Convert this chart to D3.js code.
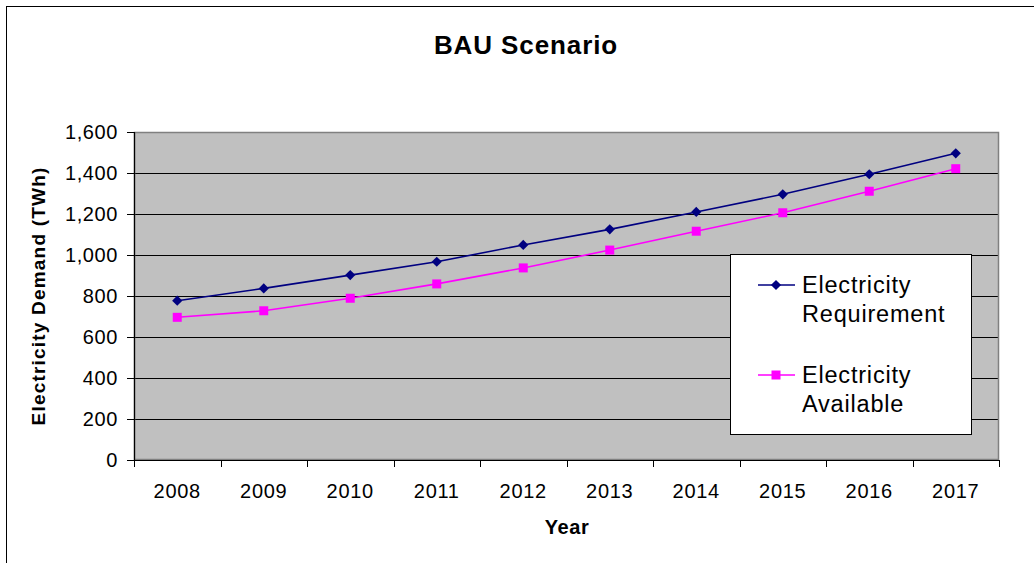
<!DOCTYPE html>
<html>
<head>
<meta charset="utf-8">
<script src="https://cdn.jsdelivr.net/npm/d3@7"></script>
<style>
  body { margin: 0; background: #fff; }
  svg { display: block; font-family: Arial, "Liberation Sans", sans-serif; }
</style>
</head>
<body>
<svg id="chart" width="1034" height="563"></svg>
<script>
const years = ["2008","2009","2010","2011","2012","2013","2014","2015","2016","2017"];
const requirement = [777, 837, 902, 967, 1049, 1125, 1210, 1296, 1394, 1496];
const available = [696, 728, 789, 859, 937, 1024, 1116, 1206, 1311, 1421];
const yTicks = [0, 200, 400, 600, 800, 1000, 1200, 1400, 1600];
const seriesNames = ["Electricity Requirement", "Electricity Available"];

const svg = d3.select("#chart");

// outer chart frame
svg.append("rect").attr("x", 6.5).attr("y", 6.5).attr("width", 1200).attr("height", 700)
  .attr("fill", "#fff").attr("stroke", "#000").attr("stroke-width", 1);

const plot = { left: 134, top: 132, right: 999, bottom: 460 };

const x = d3.scaleBand().domain(years).range([plot.left, plot.right]);
const y = d3.scaleLinear().domain([0, 1600]).range([plot.bottom, plot.top]);

// plot area
svg.append("rect").attr("x", plot.left).attr("y", plot.top)
  .attr("width", plot.right - plot.left).attr("height", plot.bottom - plot.top)
  .attr("fill", "#C0C0C0");

// gridlines
svg.append("g").selectAll("line").data(yTicks.filter(d => d > 0 && d < 1600)).join("line")
  .attr("x1", plot.left).attr("x2", plot.right)
  .attr("y1", d => Math.round(y(d)) + 0.5).attr("y2", d => Math.round(y(d)) + 0.5)
  .attr("stroke", "#000").attr("stroke-width", 1);

// plot border
svg.append("rect").attr("x", plot.left + 0.5).attr("y", plot.top + 0.5)
  .attr("width", plot.right - plot.left - 1).attr("height", plot.bottom - plot.top - 1)
  .attr("fill", "none").attr("stroke", "#808080").attr("stroke-width", 1.5);

// Y axis
const yAxis = d3.axisLeft(y).tickValues(yTicks).tickSize(7).tickPadding(9)
  .tickFormat(d3.format(","));
const gy = svg.append("g").attr("transform", `translate(${plot.left},0)`).call(yAxis);
gy.select(".domain").attr("stroke", "#000").attr("stroke-width", 1.2);
gy.selectAll(".tick line").attr("stroke", "#000");
gy.selectAll(".tick text").attr("font-size", 20).attr("fill", "#000")
  .attr("font-family", "Arial, 'Liberation Sans', sans-serif").attr("letter-spacing", 0.6);

// X axis (ticks at category boundaries)
const gx = svg.append("g").attr("transform", `translate(0,${plot.bottom})`);
gx.append("line").attr("x1", plot.left).attr("x2", plot.right).attr("y1", 0.5).attr("y2", 0.5)
  .attr("stroke", "#000").attr("stroke-width", 1.2);
const bounds = years.map(d => x(d)).concat([x(years[years.length-1]) + x.bandwidth()]);
gx.selectAll("line.tk").data(bounds).join("line").attr("class", "tk")
  .attr("x1", d => Math.round(d) + 0.5).attr("x2", d => Math.round(d) + 0.5)
  .attr("y1", 0).attr("y2", 7).attr("stroke", "#000");
gx.selectAll("text").data(years).join("text")
  .attr("x", d => x(d) + x.bandwidth() / 2).attr("y", 38)
  .attr("text-anchor", "middle").attr("font-size", 20).attr("letter-spacing", 0.7)
  .attr("fill", "#000").text(d => d);

// lines
const cx = (d, i) => x(years[i]) + x.bandwidth() / 2;
const line = d3.line().x((d, i) => cx(d, i)).y(d => y(d));
svg.append("path").datum(requirement).attr("d", line)
  .attr("fill", "none").attr("stroke", "#000080").attr("stroke-width", 1.6);
svg.append("path").datum(available).attr("d", line)
  .attr("fill", "none").attr("stroke", "#FF00FF").attr("stroke-width", 1.6);

// markers
const diamond = d3.symbol().type(d3.symbolSquare).size(52);
svg.append("g").selectAll("path").data(requirement).join("path")
  .attr("d", diamond())
  .attr("transform", (d, i) => `translate(${cx(d, i)},${y(d)}) rotate(45)`)
  .attr("fill", "#000080");
svg.append("g").selectAll("rect").data(available).join("rect")
  .attr("x", (d, i) => cx(d, i) - 4.5).attr("y", d => y(d) - 4.5)
  .attr("width", 9).attr("height", 9).attr("fill", "#FF00FF");

// legend
const lg = svg.append("g");
lg.append("rect").attr("x", 730.5).attr("y", 254.5).attr("width", 241).attr("height", 180)
  .attr("fill", "#fff").attr("stroke", "#000").attr("stroke-width", 1);
const legendItems = [
  { lines: ["Electricity", "Requirement"], color: "#000080", shape: "diamond", y: 285 },
  { lines: ["Electricity", "Available"], color: "#FF00FF", shape: "square", y: 375 }
];
legendItems.forEach((it) => {
  lg.append("line").attr("x1", 758).attr("x2", 795).attr("y1", it.y).attr("y2", it.y)
    .attr("stroke", it.color).attr("stroke-width", 1.6);
  if (it.shape === "diamond") {
    lg.append("path").attr("d", diamond()).attr("transform", `translate(776,${it.y}) rotate(45)`)
      .attr("fill", it.color);
  } else {
    lg.append("rect").attr("x", 771.5).attr("y", it.y - 4.5).attr("width", 9).attr("height", 9)
      .attr("fill", it.color);
  }
  const t = lg.append("text").attr("x", 802).attr("y", it.y + 8)
    .attr("font-size", 23.5).attr("letter-spacing", 0.8).attr("fill", "#000");
  t.append("tspan").attr("x", 802).attr("dy", 0).text(it.lines[0]);
  t.append("tspan").attr("x", 802).attr("dy", 29).text(it.lines[1]);
});

// title
svg.append("text").attr("x", 526).attr("y", 54).attr("text-anchor", "middle")
  .attr("font-size", 26).attr("font-weight", "bold").attr("letter-spacing", 0.9)
  .attr("fill", "#000").text("BAU Scenario");

// axis titles
svg.append("text").attr("x", 567).attr("y", 534).attr("text-anchor", "middle")
  .attr("font-size", 20).attr("font-weight", "bold").attr("letter-spacing", 0.6)
  .attr("fill", "#000").text("Year");
svg.append("text").attr("transform", `translate(45,296) rotate(-90)`).attr("text-anchor", "middle")
  .attr("font-size", 19).attr("font-weight", "bold").attr("letter-spacing", 1.2)
  .attr("fill", "#000").text("Electricity Demand (TWh)");
</script>
</body>
</html>
